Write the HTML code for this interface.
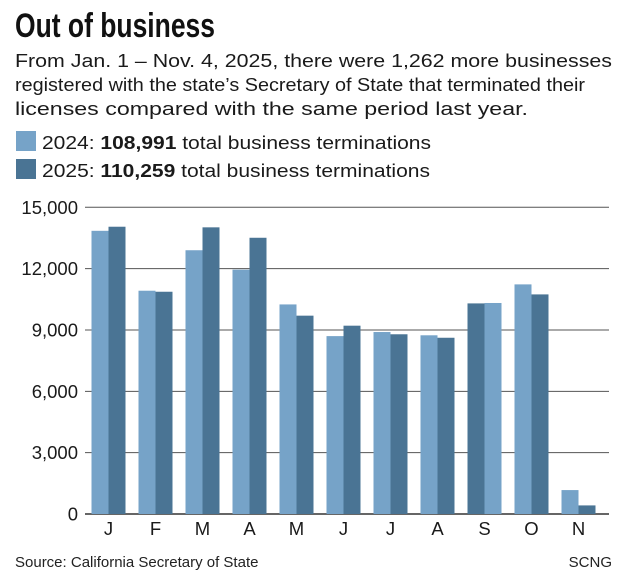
<!DOCTYPE html>
<html><head><meta charset="utf-8"><style>
body{margin:0;background:#fff;}
svg{display:block;font-family:"Liberation Sans",sans-serif;}
</style></head><body>
<svg id="chart" width="620" height="582" viewBox="0 0 620 582">
<text x="15" y="37" font-size="34" font-weight="bold" textLength="200" lengthAdjust="spacingAndGlyphs" fill="#111">Out of business</text>
<g font-size="18.5" fill="#1a1a1a">
<text x="15" y="67" textLength="597" lengthAdjust="spacingAndGlyphs">From Jan. 1 – Nov. 4, 2025, there were 1,262 more businesses</text>
<text x="15" y="91" textLength="570" lengthAdjust="spacingAndGlyphs">registered with the state’s Secretary of State that terminated their</text>
<text x="15" y="115" textLength="513" lengthAdjust="spacingAndGlyphs">licenses compared with the same period last year.</text>
</g>
<g>
<rect x="16" y="131" width="20" height="20" fill="#76a3c8"/>
<text x="42" y="149" font-size="18.5" fill="#1a1a1a" textLength="389" lengthAdjust="spacingAndGlyphs">2024: <tspan font-weight="bold">108,991</tspan> total business terminations</text>
</g>
<g>
<rect x="16" y="159" width="20" height="20" fill="#4a7494"/>
<text x="42" y="177" font-size="18.5" fill="#1a1a1a" textLength="388" lengthAdjust="spacingAndGlyphs">2025: <tspan font-weight="bold">110,259</tspan> total business terminations</text>
</g>
<g id="grid"></g>
<g id="bars"></g>
<g id="xlabels"></g>
<text x="15" y="567" font-size="15" fill="#222">Source: California Secretary of State</text>
<text x="612" y="567" font-size="15" fill="#222" text-anchor="end">SCNG</text>
</svg>
<script>
const months = ["J","F","M","A","M","J","J","A","S","O","N"];
const values2024 = [13850,10920,12900,11950,10250,8700,8900,8740,10320,11230,1170];
const values2025 = [14050,10870,14020,13510,9700,9210,8790,8620,10300,10740,420];
const swapped = [false,false,false,false,false,false,false,false,true,false,false];
const yTicks = [0,3000,6000,9000,12000,15000];
const yTickLabels = ["0","3,000","6,000","9,000","12,000","15,000"];
const NS="http://www.w3.org/2000/svg";
const y0=514, yTop=207.3, maxV=15000;
function yScale(v){return y0-(v/maxV)*(y0-yTop);}
function xGroup(i){return 91.5+i*47;}
const bw=17;
const grid=document.getElementById('grid');
yTicks.forEach((t,i)=>{
  const l=document.createElementNS(NS,'line');
  l.setAttribute('x1',85);l.setAttribute('x2',609);
  l.setAttribute('y1',yScale(t));l.setAttribute('y2',yScale(t));
  l.setAttribute('stroke',t===0?'#333':'#555');l.setAttribute('stroke-width',t===0?1.5:1);
  
  
  grid.appendChild(l);
  const tx=document.createElementNS(NS,'text');
  tx.setAttribute('x',78);tx.setAttribute('y',yScale(t)+6.5);
  tx.setAttribute('text-anchor','end');tx.setAttribute('font-size','18.5');tx.setAttribute('fill','#1a1a1a');
  tx.textContent=yTickLabels[i];
  
  
  grid.appendChild(tx);
});
const bars=document.getElementById('bars');
const xl=document.getElementById('xlabels');
months.forEach((m,i)=>{
  const gx=xGroup(i);
  const a=swapped[i]?1:0, b=swapped[i]?0:1;
  const r1=document.createElementNS(NS,'rect');
  r1.setAttribute('x',gx+a*bw);r1.setAttribute('width',bw);
  r1.setAttribute('y',yScale(values2024[i]));r1.setAttribute('height',y0-yScale(values2024[i]));
  r1.setAttribute('fill','#76a3c8');
  
  
  bars.appendChild(r1);
  const r2=document.createElementNS(NS,'rect');
  r2.setAttribute('x',gx+b*bw);r2.setAttribute('width',bw);
  r2.setAttribute('y',yScale(values2025[i]));r2.setAttribute('height',y0-yScale(values2025[i]));
  r2.setAttribute('fill','#4a7494');
  
  
  bars.appendChild(r2);
  const t=document.createElementNS(NS,'text');
  t.setAttribute('x',gx+bw);t.setAttribute('y',535);
  t.setAttribute('text-anchor','middle');t.setAttribute('font-size','18.5');t.setAttribute('fill','#1a1a1a');
  t.textContent=m;
  
  
  xl.appendChild(t);
});
</script>
</body></html>
